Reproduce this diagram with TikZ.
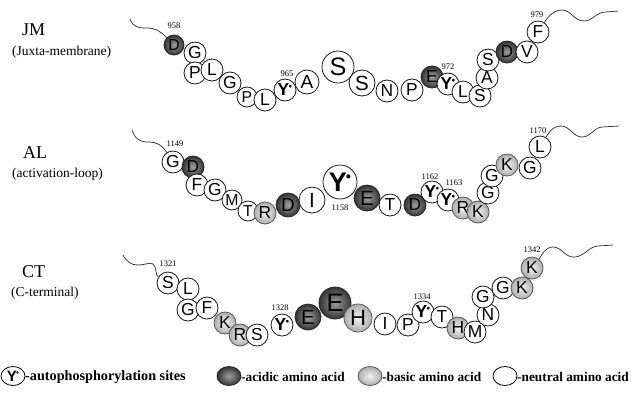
\documentclass[tikz,border=0pt]{standalone}
\usepackage{fontspec}
\setmainfont{Liberation Serif}
\setsansfont{Liberation Sans}
\usetikzlibrary{shapes.geometric}
\tikzset{
  resbase/.style={circle, inner sep=0pt, line width=0.8pt},
  neu/.style={resbase, draw=black!90, fill=white},
  acid/.style={resbase, draw=black!85, shading=radial, inner color=black!38, outer color=black!80},
  bas/.style={resbase, draw=black!65, shading=radial, inner color=black!5, outer color=black!32},
  num/.style={font=\fontsize{8.5}{8.5}\selectfont, inner sep=0pt},
  wave/.style={line width=0.75pt, black!80},
  title/.style={font=\fontsize{18}{18}\selectfont, anchor=west, inner sep=0pt},
  sub/.style={font=\fontsize{13.5}{13.5}\selectfont, anchor=west, inner sep=0pt},
  legtext/.style={font=\fontsize{13.3}{13.3}\selectfont\bfseries, anchor=west, inner sep=0pt},
  legshape/.style={ellipse, inner sep=0pt, minimum width=24pt, minimum height=19pt, line width=0.8pt}
}
\newcommand\Yp{{\bfseries Y}\kern-0.04em\raisebox{0.42em}{\scalebox{0.42}{$\bullet$}}}
\newcommand\res[6]{%
  \pgfmathsetmacro\resfs{1.58*#4}%
  \node[#5, minimum size={2*#4 pt}, font=\fontsize{\resfs pt}{\resfs pt}\selectfont\sffamily] (#1) at (#2,#3) {#6};}
\begin{document}
\begin{tikzpicture}[x=1pt,y=-1pt]
\useasboundingbox (0,0) rectangle (634,392);
\fill[white] (0,0) rectangle (634,392);

% left labels
\node[title] (tJM) at (22,30) {JM};
\node[sub] (sJM) at (12,52) {(Juxta-membrane)};
\node[title] (tAL) at (23,153) {AL};
\node[sub] (sAL) at (12,174) {(activation-loop)};
\node[title] (tCT) at (22,272) {CT};
\node[sub] (sCT) at (11,293) {(C-terminal)};

% ---------- row 1 : JM ----------
\res{a1}{174}{45}{10}{acid}{D}
\res{a2}{195}{53}{11}{neu}{G}
\res{a3}{195}{73}{11}{neu}{P}
\res{a4}{212}{70}{11}{neu}{L}
\res{a5}{230}{83}{11}{neu}{G}
\res{a6}{247}{97}{10}{neu}{P}
\res{a7}{265}{100}{11}{neu}{L}
\res{a8}{285}{90}{11}{neu}{\Yp}
\res{a9}{307}{82}{12}{neu}{A}
\res{a10}{338}{67}{16}{neu}{S}
\res{a11}{362}{83}{13}{neu}{S}
\res{a12}{387}{91}{11}{neu}{N}
\res{a13}{412}{90}{11}{neu}{P}
\res{a14}{432}{77}{11}{acid}{E}
\res{a15}{448}{84}{11}{neu}{\Yp}
\res{a16}{463}{92}{11}{neu}{L}
\res{a17}{480}{96}{11}{neu}{S}
\res{a18}{487}{78}{11}{neu}{A}
\res{a19}{488}{60}{11}{neu}{S}
\res{a20}{507}{52}{11}{acid}{D}
\res{a21}{527}{52}{11}{neu}{V}
\res{a22}{538}{32}{11}{neu}{F}
\node[num] (n958) at (174,26) {958};
\node[num] (n965) at (287,74) {965};
\node[num] (n972) at (448,67) {972};
\node[num] (n979) at (537,15) {979};
\coordinate (w1s) at (130,19);
\coordinate (w1e) at (618,11);
\draw[wave] (w1s) .. controls (133,27) and (138,28) .. (146,28) .. controls (156,28) and (160,31) .. (a1);
\draw[wave] (a22) .. controls (546,20) and (552,10) .. (562,10) .. controls (571,10) and (574,21) .. (584,21) .. controls (593,21) and (596,12) .. (606,12) -- (w1e);

% ---------- row 2 : AL ----------
\res{b1}{173}{162}{11}{neu}{G}
\res{b2}{193}{167}{11}{acid}{D}
\res{b3}{197}{185}{11}{neu}{F}
\res{b4}{215}{190}{11}{neu}{G}
\res{b5}{232}{200}{10}{neu}{M}
\res{b6}{248}{211}{10}{neu}{T}
\res{b7}{265}{213}{11}{bas}{R}
\res{b8}{288}{205}{12}{acid}{D}
\res{b9}{312}{200}{13}{neu}{I}
\res{b10}{340}{182}{17}{neu}{\Yp}
\res{b11}{367}{198}{13}{acid}{E}
\res{b12}{390}{205}{11}{neu}{T}
\res{b13}{415}{205}{11}{acid}{D}
\res{b14}{432}{192}{11}{neu}{\Yp}
\res{b15}{448}{200}{11}{neu}{\Yp}
\res{b16}{463}{208}{11}{bas}{R}
\res{b17}{478}{212}{11}{bas}{K}
\res{b18}{488}{193}{11}{neu}{G}
\res{b19}{492}{176}{11}{neu}{G}
\res{b20}{507}{165}{11}{bas}{K}
\res{b21}{530}{168}{11}{neu}{G}
\res{b22}{540}{147}{11}{neu}{L}
\node[num] (n1149) at (175,144) {1149};
\node[num] (n1158) at (340,208) {1158};
\node[num] (n1162) at (430,177) {1162};
\node[num] (n1163) at (454,183) {1163};
\node[num] (n1170) at (538,131) {1170};
\coordinate (w2s) at (132,130);
\coordinate (w2e) at (619,126);
\draw[wave] (w2s) .. controls (135,139) and (140,142) .. (148,142) .. controls (157,142) and (162,145) .. (b1);
\draw[wave] (b22) .. controls (548,134) and (552,126) .. (561,126) .. controls (570,126) and (573,137) .. (582,137) .. controls (591,137) and (593,128) .. (602,127) -- (w2e);

% ---------- row 3 : CT ----------
\res{c1}{168}{283}{11}{neu}{S}
\res{c2}{188}{289}{11}{neu}{L}
\res{c3}{188}{310}{11}{neu}{G}
\res{c4}{207}{308}{11}{neu}{F}
\res{c5}{225}{323}{11}{bas}{K}
\res{c6}{240}{335}{11}{bas}{R}
\res{c7}{257}{335}{11}{neu}{S}
\res{c8}{282}{325}{11}{neu}{\Yp}
\res{c9}{308}{317}{13}{acid}{E}
\res{c10}{335}{303}{16}{acid}{E}
\res{c11}{358}{318}{14}{bas}{H}
\res{c12}{385}{324}{11}{neu}{I}
\res{c13}{408}{325}{11}{neu}{P}
\res{c14}{423}{312}{11}{neu}{\Yp}
\res{c15}{442}{317}{11}{neu}{T}
\res{c16}{458}{328}{11}{bas}{H}
\res{c17}{475}{332}{11}{neu}{M}
\res{c18}{488}{315}{11}{neu}{N}
\res{c19}{483}{297}{11}{neu}{G}
\res{c20}{503}{288}{11}{neu}{G}
\res{c21}{522}{288}{11}{bas}{K}
\res{c22}{532}{268}{11}{bas}{K}
\node[num] (n1321) at (168,264) {1321};
\node[num] (n1328) at (280,308) {1328};
\node[num] (n1334) at (422,297) {1334};
\node[num] (n1342) at (532,250) {1342};
\coordinate (w3s) at (123,255);
\coordinate (w3e) at (613,245);
\draw[wave] (w3s) .. controls (127,262) and (131,265) .. (138,265) .. controls (145,265) and (150,262) .. (153,264) .. controls (157,267) and (155,275) .. (c1);
\draw[wave] (c22) .. controls (542,255) and (545,247) .. (553,247) .. controls (562,247) and (565,258) .. (575,257) .. controls (585,256) and (588,247) .. (598,246) -- (w3e);

% ---------- legend ----------
\node[legshape, draw=black, fill=white, font=\fontsize{15}{15}\selectfont\sffamily] (lg1) at (13,376) {\Yp};
\node[legtext, font=\fontsize{14.2}{14.2}\selectfont\bfseries] (lt1) at (25,377) {-autophosphorylation sites};
\node[legshape, draw=black!85, shading=radial, inner color=black!38, outer color=black!80] (lg2) at (229,376) {};
\node[legtext] (lt2) at (241,377) {-acidic amino acid};
\node[legshape, draw=black!65, shading=radial, inner color=black!5, outer color=black!32] (lg3) at (370,376) {};
\node[legtext] (lt3) at (382,377) {-basic amino acid};
\node[legshape, draw=black, fill=white] (lg4) at (505,376) {};
\node[legtext] (lt4) at (517,377) {-neutral amino acid};
\end{tikzpicture}
\end{document}
